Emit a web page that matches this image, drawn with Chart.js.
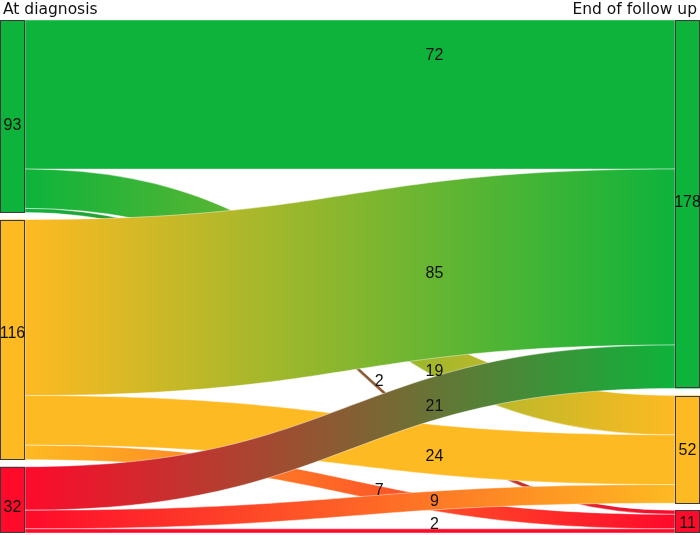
<!DOCTYPE html>
<html><head><meta charset="utf-8">
<script src="https://cdn.jsdelivr.net/npm/chart.js@4.4.0/dist/chart.umd.min.js"></script>
<style>html,body{margin:0;padding:0;background:#fff}#wrap{width:700px;height:535px;position:relative}</style>
</head><body><div id="wrap"><canvas id="c"></canvas></div>
<script>
// ---- data ----
const stages = ['At diagnosis', 'End of follow up'];
const categories = ['Green', 'Yellow', 'Red'];
const categoryColors = ['#0db33b', '#feba22', '#fe0a2b'];
const flowFrom   = [0, 0, 0, 1, 1, 1, 2, 2, 2];
const flowTo     = [0, 1, 2, 0, 1, 2, 0, 1, 2];
const flowValues = [72, 19, 2, 85, 24, 7, 21, 9, 2];
// label placement along each flow (fraction between columns) and shift (value units)
const labelAlong = [0.63, 0.63, 0.545, 0.63, 0.63, 0.545, 0.63, 0.63, 0.63];
const labelShift = [-19, 7, -3.4, 1.5, 3.5, -1.5, 4, 0.5, -3];
const leftLabelShift = [4.6, -2.9, 3.9];
const rightLabelShift = [-1, 0.7, 1];

const GAP = 3.4;
const NODE_W = 25;
const FONT = '"DejaVu Sans", sans-serif';
const NUM_FONT = '"Liberation Sans", Arial, sans-serif';

const leftTotals = categories.map((_, i) => flowValues.reduce((s, v, k) => s + (flowFrom[k] === i ? v : 0), 0));
const rightTotals = categories.map((_, i) => flowValues.reduce((s, v, k) => s + (flowTo[k] === i ? v : 0), 0));
const grand = leftTotals.reduce((a, b) => a + b, 0);
const yMax = grand + GAP * (categories.length - 1);

function starts(totals) {
  const out = []; let acc = 0;
  totals.forEach(t => { out.push(acc); acc += t + GAP; });
  return out;
}

const sankeyPlugin = {
  id: 'sankey',
  afterDatasetsDraw(chart) {
    const { ctx, scales: { x, y } } = chart;
    const xL0 = x.getPixelForValue(0), xL1 = xL0 + NODE_W;
    const xR1 = x.getPixelForValue(1), xR0 = xR1 - NODE_W;
    const xm = (xL1 + xR0) / 2;
    const lStart = starts(leftTotals), rStart = starts(rightTotals);
    const outOff = lStart.slice(), inOff = rStart.slice();
    const labels = [];
    ctx.save();
    flowValues.forEach((v, k) => {
      const f = flowFrom[k], t = flowTo[k];
      const s0 = outOff[f]; outOff[f] += v;
      const t0 = inOff[t]; inOff[t] += v;
      const ys0 = y.getPixelForValue(s0), ys1 = y.getPixelForValue(s0 + v);
      const yt0 = y.getPixelForValue(t0), yt1 = y.getPixelForValue(t0 + v);
      const g = ctx.createLinearGradient(xL1, 0, xR0, 0);
      g.addColorStop(0, categoryColors[f]);
      g.addColorStop(1, categoryColors[t]);
      ctx.beginPath();
      ctx.moveTo(xL1, ys0);
      ctx.bezierCurveTo(xm, ys0, xm, yt0, xR0, yt0);
      ctx.lineTo(xR0, yt1);
      ctx.bezierCurveTo(xm, yt1, xm, ys1, xL1, ys1);
      ctx.closePath();
      ctx.fillStyle = g;
      ctx.fill();
      ctx.strokeStyle = 'rgba(255,255,255,0.7)';
      ctx.lineWidth = 0.6;
      ctx.stroke();
      // label position
      const px = xL1 + (xR0 - xL1) * labelAlong[k];
      let lo = 0, hi = 1;
      for (let i = 0; i < 40; i++) {
        const s = (lo + hi) / 2, u = 1 - s;
        const bx = xL1 * u * u * u + xm * 3 * s * u * u + xm * 3 * s * s * u + xR0 * s * s * s;
        if (bx < px) lo = s; else hi = s;
      }
      const s = (lo + hi) / 2, e = 3 * s * s - 2 * s * s * s;
      const cv = (s0 + v / 2) + ((t0 + v / 2) - (s0 + v / 2)) * e + labelShift[k];
      labels.push([String(v), px, y.getPixelForValue(cv)]);
    });
    // nodes
    ctx.lineWidth = 1;
    ctx.strokeStyle = '#3a3a3a';
    const drawNodes = (totals, st, x0, shifts) => {
      totals.forEach((tv, i) => {
        const a = y.getPixelForValue(st[i]), b = y.getPixelForValue(st[i] + tv);
        ctx.fillStyle = categoryColors[i];
        ctx.fillRect(x0, a, NODE_W, b - a);
        ctx.strokeRect(Math.round(x0) + 0.5, Math.round(a) + 0.5, NODE_W - 1, Math.round(b - a) - 1);
        labels.push([String(tv), x0 + NODE_W / 2, y.getPixelForValue(st[i] + tv / 2 + shifts[i])]);
      });
    };
    drawNodes(leftTotals, lStart, xL0, leftLabelShift);
    drawNodes(rightTotals, rStart, xR0, rightLabelShift);
    ctx.fillStyle = '#111';
    ctx.font = '16px ' + NUM_FONT;
    ctx.textAlign = 'center';
    ctx.textBaseline = 'middle';
    labels.forEach(([txt, lx, ly]) => ctx.fillText(txt, lx, ly));
    // stage titles
    ctx.font = '15.5px ' + FONT;
    ctx.textAlign = 'left';
    ctx.fillText(stages[0], xL0 + 3, chart.chartArea.top - 10);
    ctx.textAlign = 'right';
    ctx.fillText(stages[1], xR1 - 3, chart.chartArea.top - 10);
    ctx.restore();
  }
};

new Chart(document.getElementById('c'), {
  type: 'scatter',
  data: { datasets: [{ data: [], pointRadius: 0 }] },
  options: {
    responsive: true,
    maintainAspectRatio: false,
    animation: false,
    layout: { padding: { top: 20, bottom: 2, left: 0, right: 0 } },
    scales: {
      x: { type: 'linear', min: 0, max: 1, display: false },
      y: { type: 'linear', min: 0, max: yMax, reverse: true, display: false }
    },
    plugins: { legend: { display: false }, tooltip: { enabled: false } }
  },
  plugins: [sankeyPlugin]
});
</script>
</body></html>
